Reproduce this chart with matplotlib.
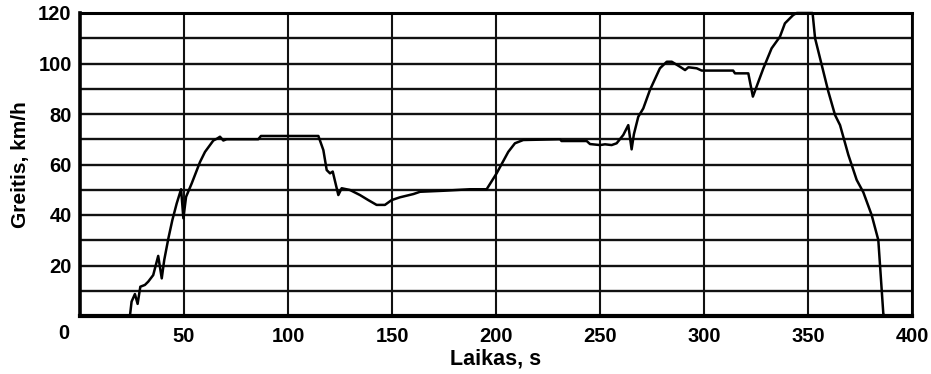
import matplotlib
matplotlib.use('Agg')
import matplotlib.pyplot as plt

plt.rcParams['font.family'] = ['Liberation Sans', 'DejaVu Sans']
plt.rcParams['font.weight'] = 'bold'

# Važiavimo ciklas: laikas (s) ir greitis (km/h)
laikas = [0, 24, 24.8, 26.4, 27.7, 29, 31.2, 32.8, 35.2, 37.6, 39.3, 40.5, 42.5,
          44.4, 46.5, 48.6, 49.7, 51, 53.7, 57.7, 60.1, 64.1, 66, 67.3, 68.9,
          70.5, 85.7, 87, 114.6, 117, 118.6, 120.2, 121.5, 124.2, 125.8, 129.8,
          134.6, 138.6, 142.6, 146.6, 149.8, 153.8, 160.3, 163.5, 174.7, 187.5,
          195.5, 200.3, 205.9, 209.1, 213.1, 230.8, 231.5, 243.6, 245.2, 250,
          252.4, 255.6, 258, 261.2, 263.6, 265.2, 266.3, 268.4, 270.8, 274,
          278.8, 282.1, 284.5, 288.5, 290.9, 292.5, 296.5, 298.9, 314, 314.9,
          321.3, 323.5, 328.5, 332.5, 336.5, 338.9, 341.3, 342.9, 344.6, 352.2,
          353.4, 356.6, 359.8, 363, 365.4, 369.4, 373.4, 376.6, 380.6, 383.8,
          386.2, 386.7, 400]
greitis = [0, 0, 5.7, 8.7, 4.8, 11.6, 12.3, 13.6, 16.2, 23.8, 14.9, 22.2, 30.8,
           38, 44.6, 50.2, 38.7, 47.2, 52.5, 61, 65, 69.5, 70.3, 71, 69.5,
           70, 70, 71.3, 71.3, 65.7, 57.8, 56.5, 57.2, 47.9, 50.6, 49.9,
           47.9, 45.9, 44, 44, 45.9, 47, 48.3, 49.2, 49.6, 50.2,
           50.2, 56.5, 65, 68.4, 69.7, 70, 69.3, 69.3, 68.1, 67.7,
           68, 67.7, 68.4, 71.7, 75.6, 66, 72, 78.9, 82.2, 89.5,
           98.1, 100.7, 100.7, 98.7, 97.4, 98.5, 98.1, 97.2, 97.2, 96.1,
           96.1, 86.9, 98, 106, 110.6, 115.9, 117.9, 119.2, 120, 120,
           110, 99.4, 88.8, 79.6, 75.6, 63.8, 53.9, 49, 40, 30.1,
           1, 0, 0]

x_ticks = [50, 100, 150, 200, 250, 300, 350, 400]
y_ticks = [20, 40, 60, 80, 100, 120]
y_minor = [10, 30, 50, 70, 90, 110]

fig = plt.figure(figsize=(9.31, 3.74), dpi=100)
ax = fig.add_axes([80 / 931, 1 - 316 / 374, 832 / 931, 303 / 374])

ax.plot(laikas, greitis, color='black', lw=1.8, clip_on=False, zorder=3)

ax.set_xlim(0, 400)
ax.set_ylim(0, 120)
ax.set_xticks(x_ticks)
ax.set_yticks(y_ticks)
ax.set_yticks(y_minor, minor=True)
ax.grid(True, which='both', axis='y', color='#111111', lw=1.7)
ax.grid(True, which='major', axis='x', color='#111111', lw=1.5)
ax.tick_params(which='both', length=0, labelsize=14.5)
ax.tick_params(axis='x', pad=8)
ax.tick_params(axis='y', pad=6)

for side, w in [('left', 2.6), ('bottom', 3.0), ('top', 2.2), ('right', 2.0)]:
    ax.spines[side].set_linewidth(w)
    ax.spines[side].set_color('black')

# nulis kampe
ax.annotate('0', xy=(0, 0), xytext=(-12, -12.5), textcoords='offset points',
            ha='center', va='center', fontsize=14.5, fontweight='bold')

ax.set_xlabel('Laikas, s', fontsize=15.5, fontweight='bold', labelpad=2)
ax.set_ylabel('Greitis, km/h', fontsize=15, fontweight='bold', labelpad=6)

fig.savefig('out.png', dpi=100)
